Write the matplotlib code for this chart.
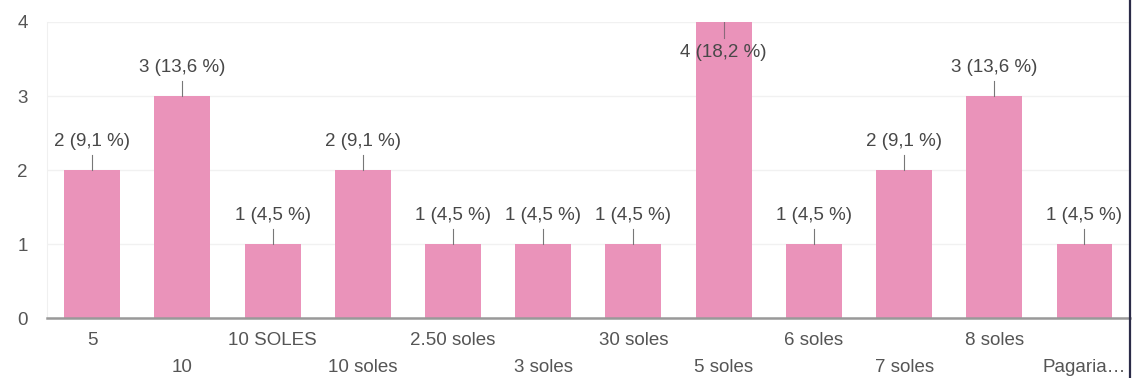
import matplotlib.pyplot as plt
from matplotlib.lines import Line2D

plt.rcParams['font.family'] = ['Liberation Sans', 'DejaVu Sans']

# respuestas por categoría
categorias = ['5', '10', '10 SOLES', '10 soles', '2.50 soles', '3 soles',
              '30 soles', '5 soles', '6 soles', '7 soles', '8 soles', 'Pagaria…']
conteos = [2, 3, 1, 2, 1, 1, 1, 4, 1, 2, 3, 1]
porcentajes = ['9,1', '13,6', '4,5', '9,1', '4,5', '4,5',
               '4,5', '18,2', '4,5', '9,1', '13,6', '4,5']

rosa = '#ea93ba'
gris_texto = '#484848'
tam = 13.5

fig = plt.figure(figsize=(11.33, 3.78), dpi=100)
ax = fig.add_axes([0.0415, 0.1587, 0.9555, 0.7831])

x = list(range(len(categorias)))
ax.bar(x, conteos, width=0.62, color=rosa, zorder=2)

ymax = 4
for i, (c, p) in enumerate(zip(conteos, porcentajes)):
    etiqueta = f'{c} ({p} %)'
    if c + 0.4 > ymax:
        # no cabe encima: la etiqueta va dentro de la barra
        ax.plot([i, i], [c, c - 0.22], color='#8a6a7a', lw=0.8, zorder=3)
        ax.text(i, c - 0.41, etiqueta, ha='center', va='center',
                fontsize=tam, color=gris_texto, zorder=4)
    else:
        ax.plot([i, i], [c, c + 0.2], color='#777777', lw=0.8, zorder=3)
        ax.text(i, c + 0.38, etiqueta, ha='center', va='center',
                fontsize=tam, color=gris_texto, zorder=4)

ax.set_xlim(-0.5, len(categorias) - 0.5)
ax.set_ylim(0, ymax)
ax.set_yticks([0, 1, 2, 3, 4])
ax.yaxis.grid(True, color='#f1f1f1', lw=1, zorder=0)
ax.tick_params(axis='y', length=0, labelsize=tam, labelcolor='#555555', pad=14)

ax.set_xticks(x)
ax.set_xticklabels([])
ax.tick_params(axis='x', length=0)
# etiquetas del eje x escalonadas en dos filas
for i, cat in enumerate(categorias):
    fila = 0 if i % 2 == 0 else 1
    ax.annotate(cat, xy=(i, 0), xycoords='data', xytext=(0, -22 - 27 * fila),
                textcoords='offset pixels', ha='center', va='center',
                fontsize=tam, color='#555555', annotation_clip=False)

for lado in ['top', 'right']:
    ax.spines[lado].set_visible(False)
ax.spines['left'].set_color('#f0f0f0')
ax.spines['bottom'].set_color('#999999')
ax.spines['bottom'].set_linewidth(1.8)
ax.spines['bottom'].set_zorder(5)

# borde oscuro a la derecha
fig.add_artist(Line2D([0.9975, 0.9975], [0, 1], transform=fig.transFigure,
                      color='#2b2b48', lw=1.6))

fig.savefig('out.png', dpi=100)
